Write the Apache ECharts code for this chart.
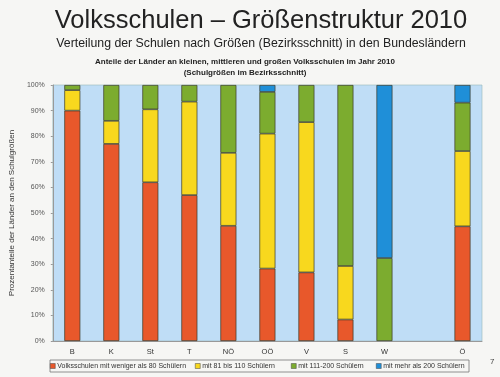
<!DOCTYPE html>
<html><head><meta charset="utf-8">
<script src="https://cdn.jsdelivr.net/npm/echarts@6/dist/echarts.min.js"></script>
<style>html,body{margin:0;padding:0;background:#f6f6f4}#c{width:500px;height:377px}</style>
</head><body><div id="c"></div>
<script>
const categories = ['B','K','St','T','NÖ','OÖ','V','S','W','','Ö'];
const seriesNames = ['Volksschulen mit weniger als 80 Schülern','mit 81 bis 110 Schülern','mit 111-200 Schülern','mit mehr als 200 Schülern'];
const small = [90, 77, 62, 57, 45, 28.3, 26.8, 8.4, null, null, 44.8];
const medium = [8, 9, 28.5, 36.5, 28.5, 52.7, 58.7, 20.9, null, null, 29.4];
const large = [2, 14, 9.5, 6.5, 26.5, 16.3, 14.5, 70.7, 32.4, null, 18.9];
const xlarge = [null, null, null, null, null, 2.7, null, null, 67.6, null, 6.9];
const yTicks = [0,10,20,30,40,50,60,70,80,90,100];
const colors = ['#e8582b','#f8d81e','#7cac2f','#1f8fd8'];
const values = [small, medium, large, xlarge];

const chart = echarts.init(document.getElementById('c'));
const legendX = [50, 195, 291, 376];
chart.setOption({
  backgroundColor: '#f6f6f4',
  title: [
    {text:'Volksschulen – Größenstruktur 2010', left:256, top:3, textAlign:'center',
     textStyle:{fontFamily:'Liberation Sans', fontSize:25.5, fontWeight:'normal', color:'#222'}},
    {text:'Verteilung der Schulen nach Größen (Bezirksschnitt) in den Bundesländern', left:256, top:33, textAlign:'center',
     textStyle:{fontFamily:'Liberation Sans', fontSize:12.3, fontWeight:'normal', color:'#222'}},
    {text:'Anteile der Länder an kleinen, mittleren und großen Volksschulen im Jahr 2010', left:240, top:53, textAlign:'center',
     textStyle:{fontFamily:'Liberation Sans', fontSize:8, fontWeight:'bold', color:'#222'}},
    {text:'(Schulgrößen im Bezirksschnitt)', left:240, top:64, textAlign:'center',
     textStyle:{fontFamily:'Liberation Sans', fontSize:8, fontWeight:'bold', color:'#222'}}
  ],
  graphic: [
    {type:'rect', shape:{x:50, y:360, width:419, height:12}, style:{fill:'none', stroke:'#777', lineWidth:0.8}, z:0},
    {type:'text', x:490, y:358, style:{text:'7', fontSize:8, fill:'#444', fontFamily:'Liberation Sans'}}
  ],
  legend: seriesNames.map((n,i)=>({
    data:[n], left:legendX[i], top:362.5, itemWidth:5, itemHeight:5, itemGap:2, padding:0,
    icon:'rect', textStyle:{fontFamily:'Liberation Sans', fontSize:7, color:'#333', padding:[0,0,0,-3]},
    itemStyle:{borderColor:'#444', borderWidth:0.5}
  })),
  grid: {left:39, right:18, top:85, bottom:36, show:true, backgroundColor:'#bfddf6', borderColor:'#9bb', borderWidth:0.6},
  xAxis: {type:'category', data:categories, axisTick:{show:false},
    axisLine:{lineStyle:{color:'#999'}},
    axisLabel:{fontFamily:'Liberation Sans', fontSize:7.5, color:'#333', margin:7}},
  yAxis: {type:'value', min:0, max:100, interval:10, splitLine:{show:false},
    axisLine:{show:true, lineStyle:{color:'#999'}}, axisTick:{show:true, length:2, lineStyle:{color:'#999'}},
    axisLabel:{formatter:v=>v+'%', fontFamily:'Liberation Sans', fontSize:7, color:'#555', margin:8},
    name:'Prozentanteile der Länder an den Schulgrößen', nameLocation:'middle', nameGap:26,
    nameTextStyle:{fontFamily:'Liberation Sans', fontSize:8, color:'#333'}},
  series: values.map((d,i)=>({
    name:seriesNames[i], type:'bar', stack:'s', data:d, barWidth:16,
    itemStyle:{color:colors[i], borderColor:'#3a3a2a', borderWidth:0.7}
  }))
});
</script></body></html>
